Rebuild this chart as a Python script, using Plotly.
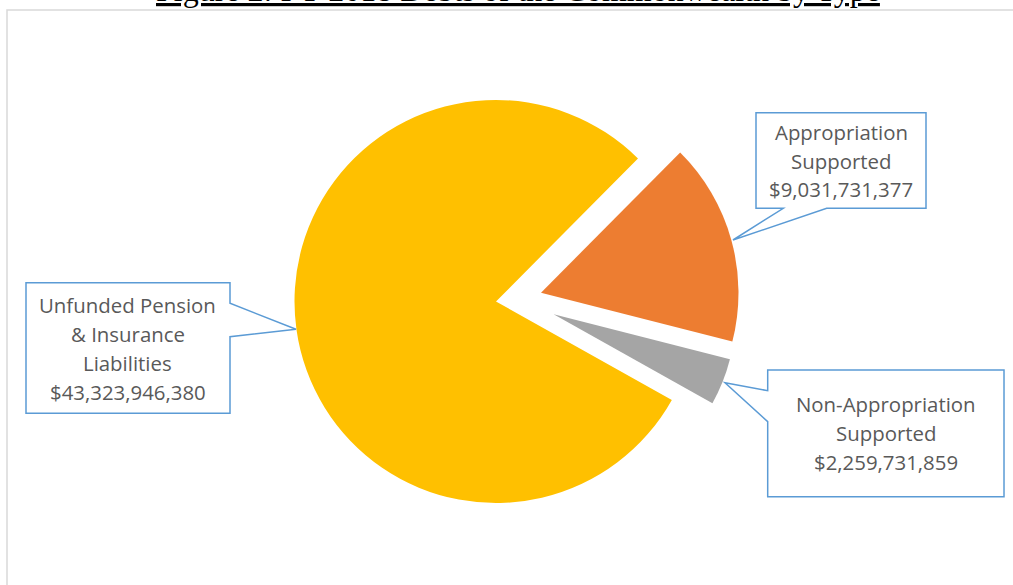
import plotly.graph_objects as go

# FY 2018 debts by type
categories = ["Appropriation Supported", "Non-Appropriation Supported",
              "Unfunded Pension & Insurance Liabilities"]
label_lines = [["Appropriation", "Supported"],
               ["Non-Appropriation", "Supported"],
               ["Unfunded Pension", "& Insurance", "Liabilities"]]
debts = [9031731377, 2259731859, 43323946380]
colors = ["#ED7D31", "#A5A5A5", "#FFC000"]

W, H = 1013, 585
BLUE = "#5B9BD5"
TEXT = "#595959"


def px(x):
    return x / W


def py(y):
    return 1 - y / H


# each slice gets its own pie (same angles), so it can sit at its own
# exploded position and radius: (centre x, centre y, radius) in pixels
slice_geom = [(541.0, 292.7, 197.5), (553.6, 314.3, 182.0), (496.0, 301.5, 201.5)]

fig = go.Figure()
for i, (cx, cy, r) in enumerate(slice_geom):
    fig.add_trace(go.Pie(
        labels=categories,
        values=debts,
        sort=False,
        direction="clockwise",
        rotation=44.8,
        textinfo="none",
        hoverinfo="skip",
        showlegend=False,
        marker=dict(colors=[c if j == i else "rgba(0,0,0,0)" for j, c in enumerate(colors)],
                    line=dict(width=0)),
        domain=dict(x=[px(cx - r), px(cx + r)], y=[py(cy + r), py(cy - r)]),
    ))

shapes = []
# chart area border
shapes.append(dict(type="rect", xref="paper", yref="paper",
                   x0=px(7), x1=px(1030), y0=py(10), y1=py(620),
                   line=dict(color="#D9D9D9", width=1.5), fillcolor="rgba(0,0,0,0)",
                   layer="below"))


def callout(points):
    d = "M " + " L ".join(f"{px(x):.5f},{py(y):.5f}" for x, y in points) + " Z"
    return dict(type="path", path=d, xref="paper", yref="paper",
                line=dict(color=BLUE, width=1.5), fillcolor="white")


# callout outlines (box + pointer)
callout_pts = [
    [(756, 112.7), (926, 112.7), (926, 208.3), (826.7, 208.3), (733, 240),
     (783.3, 208.3), (756, 208.3)],
    [(767.7, 370), (1004, 370), (1004, 496.7), (767.7, 496.7), (767.7, 421.7),
     (725, 382.7), (767.7, 390.7)],
    [(26, 282.7), (230, 282.7), (230, 303.3), (296, 329.3), (230, 336.7),
     (230, 413.3), (26, 413.3)],
]
for pts in callout_pts:
    shapes.append(callout(pts))

# text centre of each callout (x, middle y), line pitch in px
text_pos = [(841, 160.5), (886, 433.3), (128, 348.0)]
pitch = 29.0

annotations = []
for i, (tx, ty) in enumerate(text_pos):
    lines = label_lines[i] + [f"${debts[i]:,}"]
    n = len(lines)
    for k, line in enumerate(lines):
        yy = ty + (k - (n - 1) / 2) * pitch
        annotations.append(dict(
            x=px(tx), y=py(yy), xref="paper", yref="paper",
            text=line, showarrow=False, xanchor="center", yanchor="middle",
            font=dict(family="Open Sans", size=20.4, color=TEXT)))

# figure caption, partly above the page edge
annotations.append(dict(
    x=px(517.5), y=py(-10), xref="paper", yref="paper",
    text="<u>Figure 2: FY 2018 Debts of the Commonwealth by Type</u>",
    showarrow=False, xanchor="center", yanchor="middle",
    font=dict(family="Liberation Serif", size=32, color="black")))

fig.update_layout(
    width=W, height=H,
    margin=dict(l=0, r=0, t=0, b=0),
    paper_bgcolor="white", plot_bgcolor="white",
    shapes=shapes, annotations=annotations,
)

fig.write_html("out.html")
